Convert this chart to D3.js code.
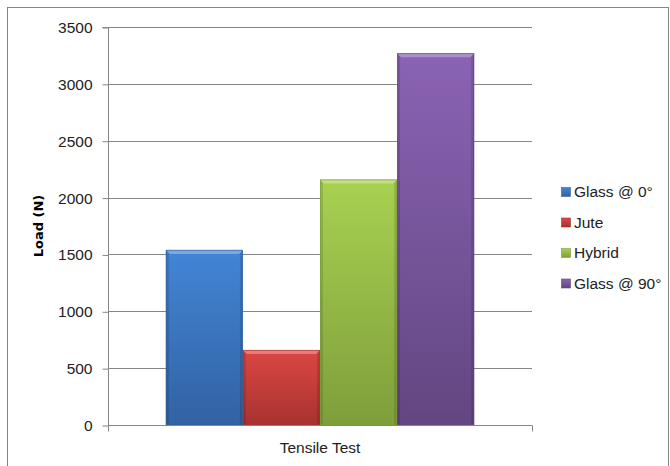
<!DOCTYPE html>
<html>
<head>
<meta charset="utf-8">
<script src="https://cdn.jsdelivr.net/npm/d3@7"></script>
<style>
  body { margin: 0; background: #fff; }
  svg { display: block; font-family: "Liberation Sans", Arial, sans-serif; }
</style>
</head>
<body>
<div id="chart"></div>
<script>
// datos
const categories = ['Tensile Test'];
const series = ['Glass @ 0°', 'Jute', 'Hybrid', 'Glass @ 90°'];
const values = [1540, 660, 2160, 3270];
const yTicks = [0, 500, 1000, 1500, 2000, 2500, 3000, 3500];
const colorsTop = ['#4285d6', '#dc4744', '#a8d151', '#8a63b4'];
const colorsBottom = ['#3262a2', '#a7322f', '#7f9e3b', '#634681'];

const width = 670, height = 466;
const margin = {top: 27, right: 138, bottom: 41, left: 108};

const svg = d3.select('#chart').append('svg')
    .attr('width', width).attr('height', height);

// borde exterior
svg.append('rect')
    .attr('x', 7.5).attr('y', 7.5)
    .attr('width', 661).attr('height', 470)
    .attr('fill', 'none').attr('stroke', '#868686');

const x0 = d3.scaleBand().domain(categories)
    .range([margin.left, width - margin.right]).paddingInner(0).paddingOuter(0);
const y = d3.scaleLinear().domain([0, 3500]).range([height - margin.bottom, margin.top]);

// gradientes
const defs = svg.append('defs');
series.forEach((s, i) => {
    const g = defs.append('linearGradient').attr('id', 'grad' + i)
        .attr('x1', 0).attr('y1', 0).attr('x2', 0).attr('y2', 1);
    g.append('stop').attr('offset', '0%').attr('stop-color', colorsTop[i]);
    g.append('stop').attr('offset', '100%').attr('stop-color', colorsBottom[i]);
});

// lineas de cuadricula
svg.append('g')
    .selectAll('line').data(yTicks.slice(1)).enter().append('line')
    .attr('x1', margin.left).attr('x2', width - margin.right)
    .attr('y1', d => Math.round(y(d)) + 0.5).attr('y2', d => Math.round(y(d)) + 0.5)
    .attr('stroke', '#868686');

// eje Y
const yAxis = svg.append('g')
    .attr('transform', `translate(${margin.left + 0.5},0.5)`)
    .call(d3.axisLeft(y).tickValues(yTicks).tickSize(6).tickPadding(10).tickFormat(d3.format('d')));
yAxis.selectAll('line, path').attr('stroke', '#868686');
yAxis.select('.domain').attr('d', `M-6,${y(3500)}H0V${y(0)}`);
yAxis.selectAll('text').attr('font-size', 15.5).attr('fill', '#222')
    .attr('font-family', '"Liberation Sans", Arial, sans-serif');

// eje X
const xAxisY = Math.round(y(0)) + 0.5;
svg.append('line')
    .attr('x1', margin.left).attr('x2', width - margin.right)
    .attr('y1', xAxisY).attr('y2', xAxisY).attr('stroke', '#868686');
[margin.left, width - margin.right].forEach(px => {
    svg.append('line')
        .attr('x1', px + 0.5).attr('x2', px + 0.5)
        .attr('y1', xAxisY).attr('y2', xAxisY + 6).attr('stroke', '#868686');
});
svg.append('text')
    .attr('x', x0('Tensile Test') + x0.bandwidth() / 2)
    .attr('y', 453)
    .attr('text-anchor', 'middle').attr('font-size', 15.5).attr('fill', '#222')
    .text('Tensile Test');

// barras (ancho de separacion 150%)
const bw = x0.bandwidth();
const barW = bw / (series.length + 1.5);
const x1 = d3.scaleBand().domain(series)
    .range([x0('Tensile Test') + barW * 0.75, x0('Tensile Test') + bw - barW * 0.75]);

const bars = svg.append('g').selectAll('g').data(values).enter().append('g');
bars.append('rect')
    .attr('x', (d, i) => x1(series[i]))
    .attr('y', d => y(d))
    .attr('width', x1.bandwidth())
    .attr('height', d => y(0) - y(d))
    .attr('fill', (d, i) => `url(#grad${i})`);
// bisel superior
bars.append('path')
    .attr('d', (d, i) => {
        const bx = x1(series[i]), by = y(d), w = x1.bandwidth(), b = 4;
        return `M${bx},${by}H${bx + w}L${bx + w - b},${by + b}H${bx + b}Z`;
    })
    .attr('fill', '#fff').attr('opacity', 0.3);
// bisel lateral
bars.append('path')
    .attr('d', (d, i) => {
        const bx = x1(series[i]), by = y(d), w = x1.bandwidth(), b = 3;
        return `M${bx},${by}L${bx + b},${by + 4}V${y(0)}H${bx}Z M${bx + w},${by}L${bx + w - b},${by + 4}V${y(0)}H${bx + w}Z`;
    })
    .attr('fill', '#000').attr('opacity', 0.12);
bars.append('rect')
    .attr('x', (d, i) => x1(series[i]) + 0.5)
    .attr('y', d => y(d) + 0.5)
    .attr('width', x1.bandwidth() - 1)
    .attr('height', d => y(0) - y(d) - 1)
    .attr('fill', 'none')
    .attr('stroke', (d, i) => colorsBottom[i]).attr('stroke-opacity', 0.6);

// titulo del eje Y
svg.append('text')
    .attr('transform', `translate(43,${(y(0) + y(3500)) / 2}) rotate(-90)`)
    .attr('text-anchor', 'middle').attr('font-size', 13).attr('font-weight', 'bold')
    .attr('font-family', '"DejaVu Sans", Verdana, sans-serif')
    .text('Load (N)');

// leyenda
const legend = svg.append('g').attr('transform', 'translate(561,192)');
const item = legend.selectAll('g').data(series).enter().append('g')
    .attr('transform', (d, i) => `translate(0,${i * 30.5})`);
item.append('rect')
    .attr('x', 0.5).attr('y', -4.5).attr('width', 9).attr('height', 9)
    .attr('fill', (d, i) => `url(#grad${i})`)
    .attr('stroke', (d, i) => colorsBottom[i]).attr('stroke-width', 0.6);
item.append('text')
    .attr('x', 13).attr('dy', '0.35em')
    .attr('font-size', 15.5).attr('fill', '#222')
    .text(d => d);
</script>
</body>
</html>
